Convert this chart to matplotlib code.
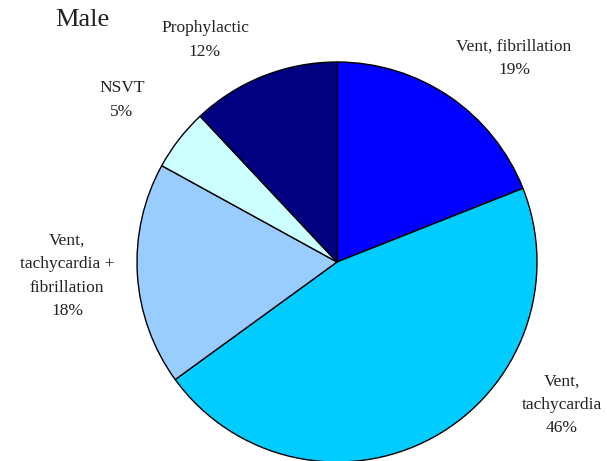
import matplotlib
matplotlib.use("Agg")
import matplotlib.pyplot as plt

# data, clockwise from 12 o'clock
categories = ["Vent, fibrillation", "Vent,\ntachycardia", "Vent,\ntachycardia +\nfibrillation",
              "NSVT", "Prophylactic"]
shares = [19, 46, 18, 5, 12]
colors = ["#0000FF", "#00CCFF", "#99CCFF", "#CCFFFF", "#000080"]

# label centres in pixels (x, y from top)
label_pos = [(514, 58), (562, 405), (67, 276), (122, 100), (205, 40)]

W, H = 607, 461
fig = plt.figure(figsize=(W / 100, H / 100), dpi=100)
plt.rcParams["font.family"] = ["Liberation Serif", "DejaVu Serif"]

# pie centre (337, 262), radius 200 px
cx, cy, r = 337, 262, 200
ax = fig.add_axes([(cx - r) / W, (H - cy - r) / H, 2 * r / W, 2 * r / H])
ax.pie(shares, colors=colors, startangle=90, counterclock=False,
       wedgeprops={"edgecolor": "black", "linewidth": 1.0})
ax.set_xlim(-1, 1)
ax.set_ylim(-1, 1)
ax.axis("off")

for cat, val, (px, py) in zip(categories, shares, label_pos):
    fig.text(px / W, 1 - py / H, f"{cat}\n{val}%", ha="center", va="center",
             fontsize=12.5, color="#222222", linespacing=1.62)

fig.text(82 / W, 1 - 20 / H, "Male", ha="center", va="center", fontsize=19, color="#222222")

fig.savefig("out.png", dpi=100)
